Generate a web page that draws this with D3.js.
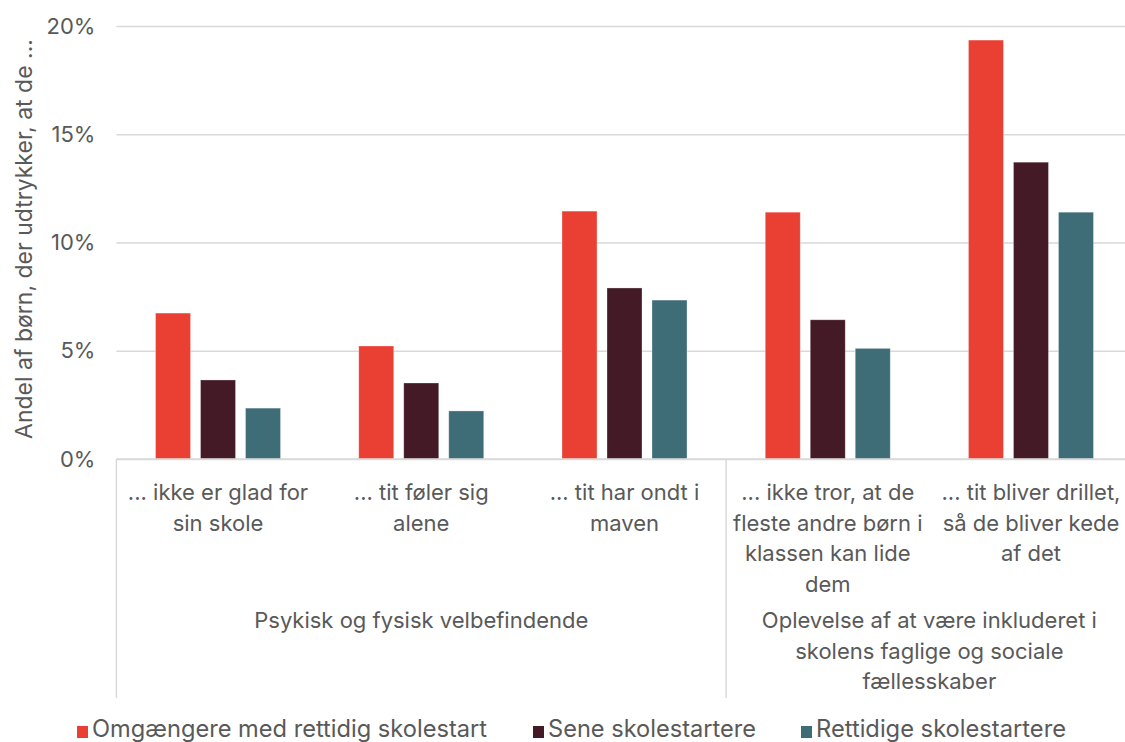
<!DOCTYPE html>
<html>
<head>
<meta charset="utf-8">
<script src="https://cdn.jsdelivr.net/npm/d3@7"></script>
<style>
  body { margin: 0; background: #fff; }
  svg text { font-family: Inter, "Open Sans", sans-serif; fill: #595959; }
</style>
</head>
<body>
<svg id="chart" width="1125" height="742"></svg>
<script>
// data
let categories = [
  ["... ikke er glad for", "sin skole"],
  ["... tit føler sig", "alene"],
  ["... tit har ondt i", "maven"],
  ["... ikke tror, at de", "fleste andre børn i", "klassen kan lide", "dem"],
  ["... tit bliver drillet,", "så de bliver kede", "af det"]
];
let groups = [
  { lines: ["Psykisk og fysisk velbefindende"], from: 0, to: 3 },
  { lines: ["Oplevelse af at være inkluderet i", "skolens faglige og sociale", "fællesskaber"], from: 3, to: 5 }
];
let seriesNames = ["Omgængere med rettidig skolestart", "Sene skolestartere", "Rettidige skolestartere"];
let seriesColors = ["#EA4033", "#431A26", "#3E6D78"];
let omgaengere = [6.74, 5.22, 11.45, 11.4, 19.35];
let sene = [3.65, 3.51, 7.9, 6.43, 13.71];
let rettidige = [2.35, 2.22, 7.34, 5.11, 11.4];
let yTicks = [0, 5, 10, 15, 20];
let yTitle = "Andel af børn, der udtrykker, at de ...";

let values = [omgaengere, sene, rettidige];

let svg = d3.select("#chart");
let plotLeft = 116.4, plotRight = 1132.6, plotTop = 26, plotBottom = 459;

let x0 = d3.scaleBand().domain(d3.range(categories.length)).range([plotLeft, plotRight]).padding(0);
let groupWidth = 125;
let x1 = d3.scaleBand().domain(d3.range(seriesNames.length)).range([0, groupWidth])
  .paddingInner(10 / 45).paddingOuter(0);
let y = d3.scaleLinear().domain([0, 20]).range([plotBottom, plotTop]);

// gridlines
let yAxis = d3.axisLeft(y).tickValues(yTicks).tickSize(-(1125 - plotLeft)).tickFormat(d => d + "%");
let gy = svg.append("g").attr("transform", `translate(${plotLeft},0)`).call(yAxis);
gy.select(".domain").remove();
gy.selectAll(".tick line").attr("stroke", "#d9d9d9").attr("stroke-width", 1.5);
gy.selectAll(".tick text")
  .attr("x", -21)
  .style("font-size", "22px")
  .style("font-family", "Inter, sans-serif")
  .attr("fill", "#595959");

// bars
let catG = svg.append("g").selectAll("g")
  .data(categories)
  .join("g")
  .attr("transform", (d, i) => `translate(${x0(i) + (x0.bandwidth() - groupWidth) / 2},0)`);

catG.selectAll("rect")
  .data((d, i) => values.map((s, k) => ({ k: k, v: s[i] })))
  .join("rect")
  .attr("x", d => x1(d.k))
  .attr("width", x1.bandwidth())
  .attr("y", d => y(d.v))
  .attr("height", d => y(0) - y(d.v))
  .attr("fill", d => seriesColors[d.k])
  .attr("stroke", "#ffffff")
  .attr("stroke-opacity", 0.4)
  .attr("stroke-width", 0.75);

// x axis line and group separators
svg.append("line")
  .attr("x1", plotLeft).attr("x2", 1125).attr("y1", y(0)).attr("y2", y(0))
  .attr("stroke", "#d9d9d9").attr("stroke-width", 1.5);

let sepIdx = [0, 3];
svg.append("g").selectAll("line")
  .data(sepIdx)
  .join("line")
  .attr("x1", d => x0(d)).attr("x2", d => x0(d))
  .attr("y1", y(0)).attr("y2", 698)
  .attr("stroke", "#d9d9d9").attr("stroke-width", 1.5);

// category labels
let lineH = 30.5;
svg.append("g").selectAll("text")
  .data(categories)
  .join("text")
  .attr("text-anchor", "middle")
  .style("font-size", "22px")
  .each(function (d, i) {
    d3.select(this).selectAll("tspan")
      .data(d)
      .join("tspan")
      .attr("x", x0(i) + x0.bandwidth() / 2)
      .attr("y", (t, j) => 500 + j * lineH)
      .text(t => t);
  });

// group labels
svg.append("g").selectAll("text")
  .data(groups)
  .join("text")
  .attr("text-anchor", "middle")
  .style("font-size", "22px")
  .each(function (g) {
    let cx = (x0(g.from) + x0(g.to - 1) + x0.bandwidth()) / 2;
    d3.select(this).selectAll("tspan")
      .data(g.lines)
      .join("tspan")
      .attr("x", cx)
      .attr("y", (t, j) => 628 + j * lineH)
      .text(t => t);
  });

// y title
svg.append("text")
  .attr("transform", "translate(32,239) rotate(-90)")
  .attr("text-anchor", "middle")
  .style("font-size", "23px")
  .text(yTitle);

// legend
let legendX = [77, 533, 801];
let legendW = [395, 208, 250];
let lg = svg.append("g").selectAll("g")
  .data(seriesNames)
  .join("g")
  .attr("transform", (d, i) => `translate(${legendX[i]},0)`);
lg.append("rect")
  .attr("x", 0).attr("y", 726).attr("width", 11).attr("height", 12)
  .attr("fill", (d, i) => seriesColors[i]);
lg.append("text")
  .attr("x", 15).attr("y", 737)
  .style("font-size", "24px")
  .attr("textLength", (d, i) => legendW[i])
  .attr("lengthAdjust", "spacingAndGlyphs")
  .text(d => d);
</script>
</body>
</html>
